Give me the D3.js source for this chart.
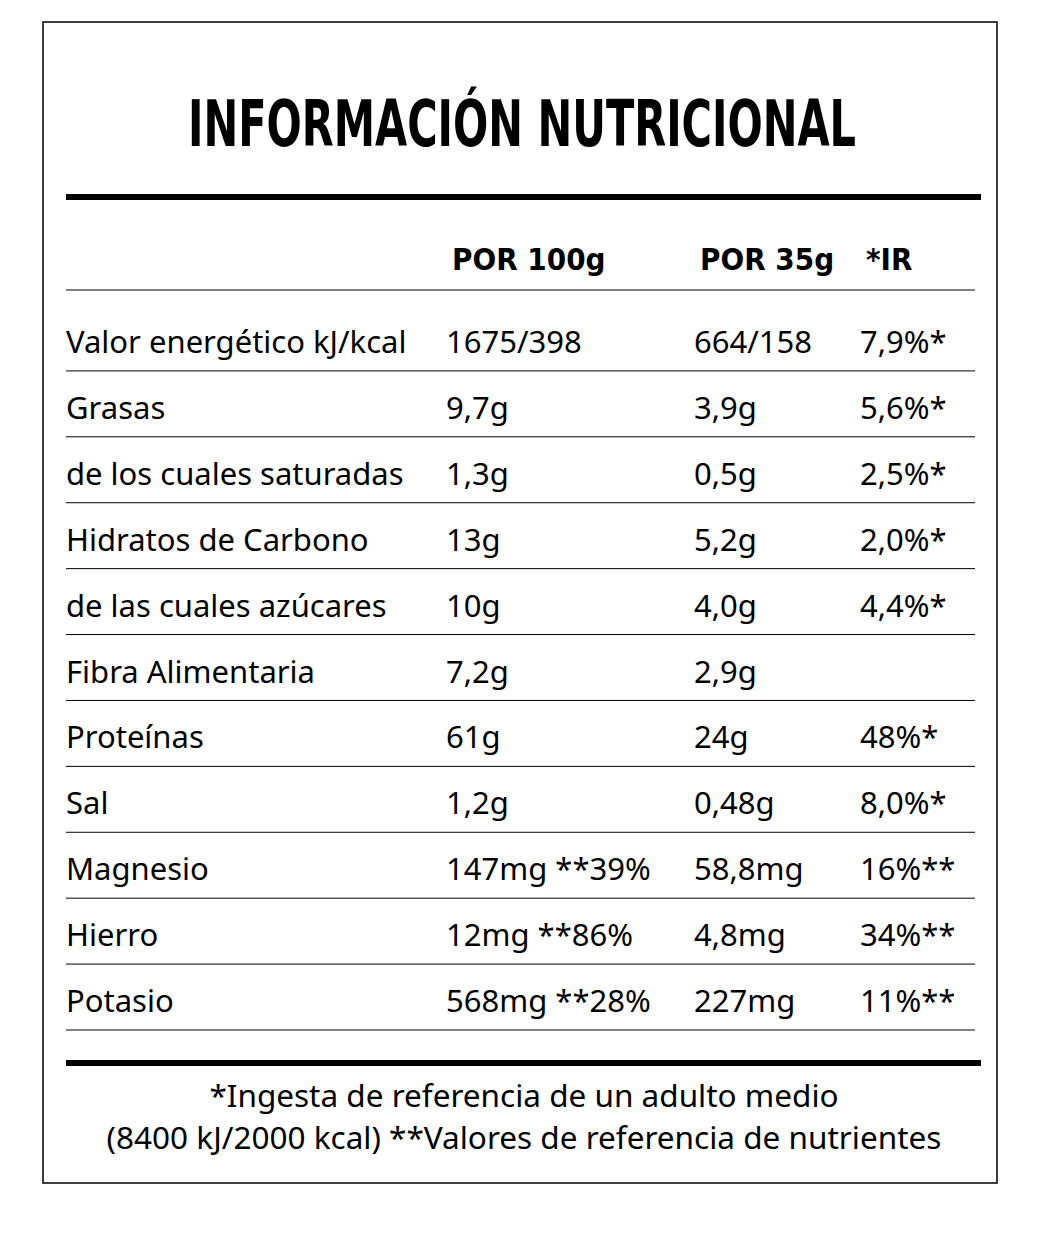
<!DOCTYPE html>
<html lang="es">
<head>
<meta charset="UTF-8">
<title>Información nutricional</title>
<style>body{margin:0;background:#fff}</style>
</head>
<body>
<div id="chart"></div>
<script src="https://d3js.org/d3.v7.min.js"></script>
<script>
// Table data
var headers = ["POR 100g", "POR 35g", "*IR"];
var nutrients = ["Valor energético kJ/kcal", "Grasas", "de los cuales saturadas", "Hidratos de Carbono",
    "de las cuales azúcares", "Fibra Alimentaria", "Proteínas", "Sal", "Magnesio", "Hierro", "Potasio"];
var per100 = ["1675/398", "9,7g", "1,3g", "13g", "10g", "7,2g", "61g", "1,2g", "147mg **39%", "12mg **86%", "568mg **28%"];
var per35 = ["664/158", "3,9g", "0,5g", "5,2g", "4,0g", "2,9g", "24g", "0,48g", "58,8mg", "4,8mg", "227mg"];
var ir = ["7,9%*", "5,6%*", "2,5%*", "2,0%*", "4,4%*", "", "48%*", "8,0%*", "16%**", "34%**", "11%**"];
var footnotes = ["*Ingesta de referencia de un adulto medio", "(8400 kJ/2000 kcal) **Valores de referencia de nutrientes"];

var W = 1042, H = 1233;
var svg = d3.select("#chart").append("svg").attr("width", W).attr("height", H);
var font = "'Noto Sans', sans-serif";
var narrow = "'Liberation Sans Narrow', 'DejaVu Sans Condensed', sans-serif";

// Outer frame
svg.append("rect").attr("x", 43).attr("y", 22).attr("width", 954).attr("height", 1161)
    .attr("fill", "none").attr("stroke", "#000").attr("stroke-width", 1.5);

// Title
svg.append("text").attr("x", 522).attr("y", 146).attr("text-anchor", "middle")
    .attr("font-family", narrow)
    .attr("font-weight", "bold").attr("font-size", 64)
    .attr("textLength", 668).attr("lengthAdjust", "spacingAndGlyphs")
    .text("INFORMACIÓN NUTRICIONAL");

// Thick rules
[197, 1063].forEach(function (y) {
    svg.append("line").attr("x1", 66).attr("x2", 981).attr("y1", y).attr("y2", y)
        .attr("stroke", "#000").attr("stroke-width", 6);
});

// Column positions
var colX = [66, 446, 694, 860];

// Headers
svg.selectAll("text.hdr").data(headers).enter().append("text").attr("class", "hdr")
    .attr("x", (d, i) => colX[i + 1] + 6).attr("y", 270)
    .attr("font-family", narrow)
    .attr("font-weight", "bold").attr("font-size", 31)
    .text(d => d);

// Row scale
var y = d3.scaleBand().domain(d3.range(nutrients.length)).range([305, 1030]);

svg.append("line").attr("x1", 66).attr("x2", 975).attr("y1", 290).attr("y2", 290)
    .attr("stroke", "#000").attr("stroke-width", 1);

var rows = svg.selectAll("g.row").data(nutrients).enter().append("g").attr("class", "row")
    .attr("transform", (d, i) => "translate(0," + y(i) + ")");

rows.append("line").attr("x1", 66).attr("x2", 975)
    .attr("y1", y.bandwidth()).attr("y2", y.bandwidth())
    .attr("stroke", "#000").attr("stroke-width", 1);

var cols = [nutrients, per100, per35, ir];
cols.forEach(function (arr, c) {
    rows.append("text").attr("x", colX[c]).attr("y", 48)
        .attr("font-family", font).attr("font-size", 31)
        .text((d, i) => arr[i]);
});

// Footnotes
svg.selectAll("text.foot").data(footnotes).enter().append("text").attr("class", "foot")
    .attr("x", 524).attr("y", (d, i) => 1107 + i * 42).attr("text-anchor", "middle")
    .attr("font-family", font).attr("font-size", 31.5)
    .text(d => d);
</script>
</body>
</html>
